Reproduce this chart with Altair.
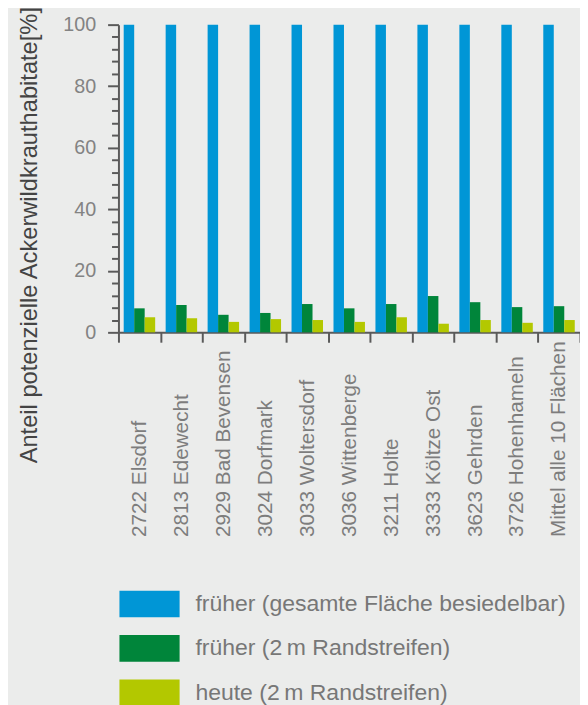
import altair as alt
import pandas as pd

categories = [
    "2722 Elsdorf", "2813 Edewecht", "2929 Bad Bevensen", "3024 Dorfmark",
    "3033 Woltersdorf", "3036 Wittenberge", "3211 Holte", "3333 Költze Ost",
    "3623 Gehrden", "3726 Hohenhameln", "Mittel alle 10 Flächen",
]
series = [
    "früher (gesamte Fläche besiedelbar)",
    "früher (2\u2009m Randstreifen)",
    "heute (2\u2009m Randstreifen)",
]
frueher_gesamt = [100, 100, 100, 100, 100, 100, 100, 100, 100, 100, 100]
frueher_rand = [7.8, 8.9, 5.7, 6.3, 9.2, 7.8, 9.2, 11.8, 9.8, 8.2, 8.5]
heute_rand = [4.9, 4.6, 3.4, 4.3, 4.0, 3.4, 4.9, 2.8, 4.0, 3.1, 4.0]
colors = ["#0096d6", "#00853a", "#b3c800"]
y_ticks = [0, 4, 8, 12, 16, 20, 24, 28, 32, 36, 40, 44, 48, 52, 56, 60,
           64, 68, 72, 76, 80, 84, 88, 92, 96, 100]

rows = []
for s, vals in zip(series, [frueher_gesamt, frueher_rand, heute_rand]):
    for c, v in zip(categories, vals):
        rows.append({"Fläche": c, "Serie": s, "Wert": v})
df = pd.DataFrame(rows)

FONT = "Liberation Sans"

chart = alt.Chart(df).mark_bar().encode(
    x=alt.X(
        "Fläche:N", sort=categories,
        scale=alt.Scale(paddingInner=0, paddingOuter=0),
        axis=alt.Axis(
            title=None, labelAngle=270, labelAlign="left", labelBaseline="middle",
            labelPadding=197, labelFontSize=21, labelColor="#7d7d7d", labelFont=FONT,
            labelLimit=400, labelOverlap=False, tickBand="extent", tickSize=10,
            tickWidth=2, tickColor="#5a5a5a", domainColor="#5a5a5a", domainWidth=2,
            grid=False,
        ),
    ),
    xOffset=alt.XOffset("Serie:N", sort=series,
                        scale=alt.Scale(paddingInner=0, paddingOuter=0.5)),
    y=alt.Y(
        "Wert:Q",
        scale=alt.Scale(domain=[0, 100], nice=False),
        axis=alt.Axis(
            values=y_ticks,
            labelExpr="datum.value % 20 === 0 ? datum.label : ''",
            tickSize={"condition": {"test": "datum.value % 20 === 0", "value": 11}, "value": 7},
            labelPadding=12, labelFontSize=20, labelColor="#838383", labelFont=FONT,
            labelBaseline="middle",
            domainColor="#5a5a5a", domainWidth=2, tickColor="#5a5a5a", tickWidth=2,
            grid=False,
            title="Anteil potenzielle Ackerwildkrauthabitate[%]",
            titleFont=FONT, titleFontSize=24, titleFontWeight="normal",
            titleColor="#444444", titleAngle=270, titleX=-83, titleY=213,
            titleAlign="center", titleBaseline="alphabetic",
        ),
    ),
    color=alt.Color(
        "Serie:N", sort=series,
        scale=alt.Scale(domain=series, range=colors),
        legend=alt.Legend(
            title=None, orient="none", legendX=1, legendY=557,
            direction="vertical",
            symbolType="M-1,-0.443H1V0.443H-1Z", symbolSize=3721,
            symbolStrokeWidth=0, symbolOpacity=1,
            labelFontSize=23.3, labelColor="#777777", labelFont=FONT,
            labelOffset=16, rowPadding=-3.6, padding=0, labelLimit=500,
        ),
    ),
).properties(
    width=468, height=312,
    autosize=alt.AutoSizeParams(type="none"),
    padding={"left": 112, "top": 12, "right": 0, "bottom": 373},
    background="#ebeceb",
).configure_view(stroke=None)

chart.save("out.html", embed_options={"renderer": "svg", "actions": False})
